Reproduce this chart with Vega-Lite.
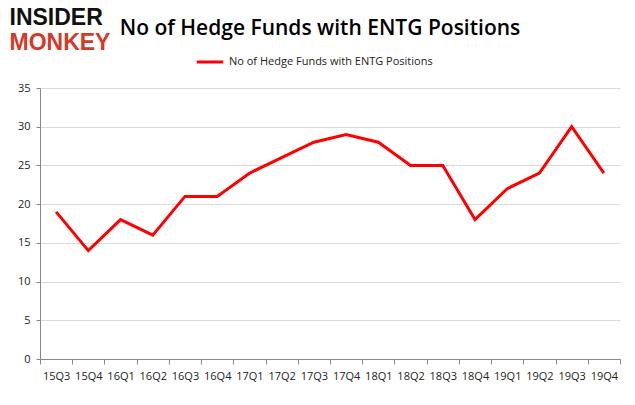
{
  "$schema": "https://vega.github.io/schema/vega-lite/v6.json",
  "autosize": {"type": "none"},
  "padding": {"left": 40, "top": 88, "right": 15, "bottom": 46},
  "background": "white",
  "width": 580,
  "height": 271,
  "title": {
    "text": "No of Hedge Funds with ENTG Positions",
    "anchor": "middle",
    "frame": "group",
    "font": "Open Sans",
    "fontSize": 21,
    "fontWeight": 600,
    "color": "#000000",
    "dx": -10,
    "offset": -33
  },
  "data": {
    "values": [
      {"q": "15Q3", "v": 19}, {"q": "15Q4", "v": 14}, {"q": "16Q1", "v": 18},
      {"q": "16Q2", "v": 16}, {"q": "16Q3", "v": 21}, {"q": "16Q4", "v": 21},
      {"q": "17Q1", "v": 24}, {"q": "17Q2", "v": 26}, {"q": "17Q3", "v": 28},
      {"q": "17Q4", "v": 29}, {"q": "18Q1", "v": 28}, {"q": "18Q2", "v": 25},
      {"q": "18Q3", "v": 25}, {"q": "18Q4", "v": 18}, {"q": "19Q1", "v": 22},
      {"q": "19Q2", "v": 24}, {"q": "19Q3", "v": 30}, {"q": "19Q4", "v": 24}
    ]
  },
  "mark": {"type": "line", "color": "#ff0000", "strokeWidth": 3, "interpolate": "linear"},
  "encoding": {
    "x": {
      "field": "q", "type": "ordinal", "title": "MONKEY",
      "scale": {"paddingInner": 0, "paddingOuter": 0},
      "axis": {"labelAngle": 0, "tickBand": "extent", "domainColor": "#888888", "tickColor": "#888888", "tickSize": 5, "labelPadding": 6, "labelFontSize": 11, "labelColor": "#222222", "labelFont": "Open Sans", "grid": false,
        "titleX": -31, "titleY": -328, "titleAlign": "left", "titleBaseline": "top", "titleAngle": 0,
        "titleFont": "Liberation Sans", "titleFontSize": 23, "titleFontWeight": 900, "titleColor": "#d23a2a"}
    },
    "y": {
      "field": "v", "type": "quantitative", "title": "INSIDER",
      "scale": {"domain": [0, 35], "nice": false},
      "axis": {"values": [0, 5, 10, 15, 20, 25, 30, 35], "domainColor": "#888888", "tickColor": "#888888", "tickSize": 4, "labelPadding": 6, "labelFontSize": 11, "labelColor": "#222222", "labelFont": "Open Sans", "gridColor": "#d9d9d9", "gridWidth": 1,
        "titleX": -31, "titleY": -82, "titleAlign": "left", "titleBaseline": "top", "titleAngle": 0,
        "titleFont": "Liberation Sans", "titleFontSize": 23, "titleFontWeight": 900, "titleColor": "#111111"}
    },
    "color": {
      "datum": "No of Hedge Funds with ENTG Positions",
      "type": "nominal",
      "scale": {"range": ["#ff0000"]},
      "legend": {
        "title": null,
        "orient": "none",
        "legendX": 155,
        "legendY": -41,
        "symbolType": "stroke",
        "symbolStrokeWidth": 3,
        "symbolSize": 700,
        "labelFontSize": 11,
        "labelLimit": 400,
        "labelFont": "Open Sans",
        "labelColor": "#222222"
      }
    }
  },
  "config": {
    "view": {"stroke": null}
  }
}
